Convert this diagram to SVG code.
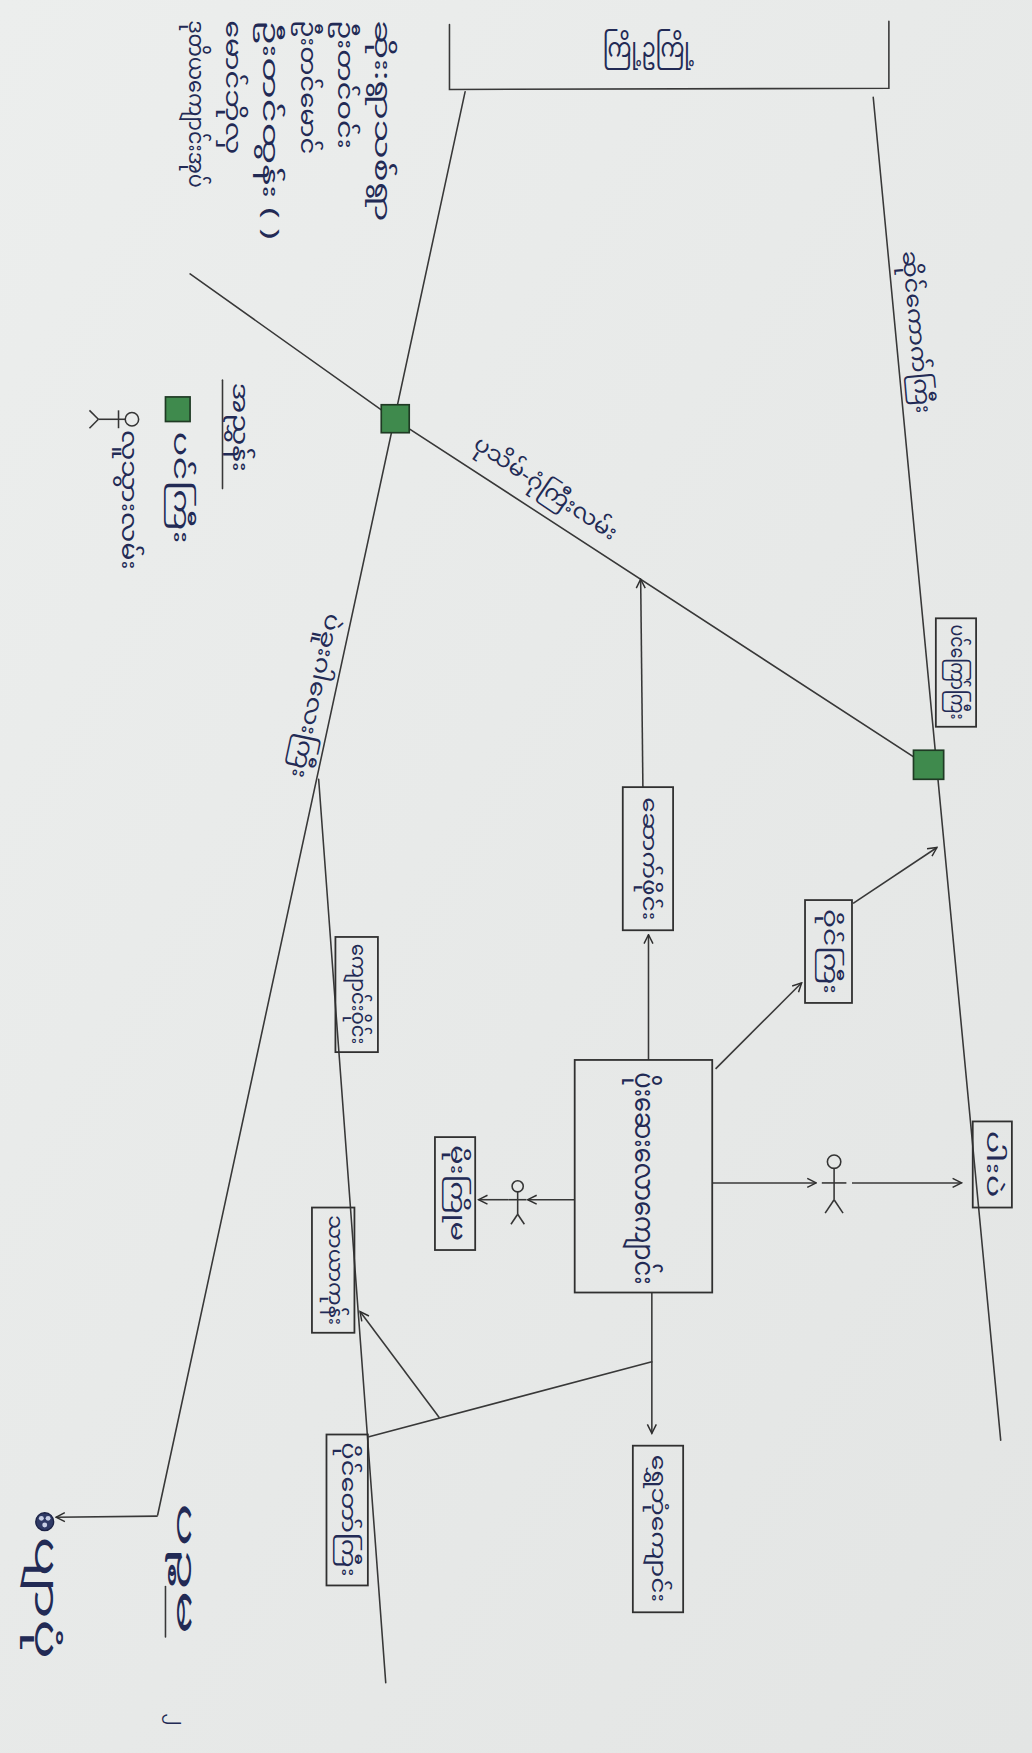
<svg xmlns="http://www.w3.org/2000/svg" width="1032" height="1753" viewBox="0 0 1032 1753">
<defs>
<linearGradient id="paper" x1="0" y1="0" x2="1" y2="1">
<stop offset="0" stop-color="#eceeed"/>
<stop offset="1" stop-color="#e3e5e4"/>
</linearGradient>
<marker id="ah" viewBox="0 0 10 10" refX="9" refY="5" markerWidth="10" markerHeight="10" orient="auto" markerUnits="userSpaceOnUse">
<path d="M1,1 L9,5 L1,9" fill="none" stroke="#2e2e2e" stroke-width="1.3"/>
</marker>
<style>
.ln{fill:none;stroke:#383838;stroke-width:1.4;stroke-linecap:round}
.ar{fill:none;stroke:#383838;stroke-width:1.4;marker-end:url(#ah)}
.bx{fill:none;stroke:#303030;stroke-width:1.6}
.t{font-family:'Noto Sans Myanmar','Padauk','Myanmar Text','Noto Sans',sans-serif;fill:#222a55;text-anchor:middle;dominant-baseline:central}
.ts{font-family:'Noto Sans Myanmar','Padauk','Myanmar Text','Noto Sans',sans-serif;fill:#222a55;text-anchor:start;dominant-baseline:central}
.sq{fill:#3f8a4d;stroke:#1f3a24;stroke-width:1.5}
.fig{fill:none;stroke:#353535;stroke-width:1.4}
</style>
</defs>
<rect x="0" y="0" width="1032" height="1753" fill="url(#paper)"/>
<g transform="scale(1.11809)">
<g id="connectors">
<polyline class="ln" points="402,22 402,80 795,79 795,19"/>
<line class="ln" x1="781" y1="87" x2="895" y2="1288"/>
<polyline class="ln" points="170,245 353,375 828,684"/>
<polyline class="ln" points="416,82 141,1355"/>
<line class="ar" x1="141" y1="1356" x2="50" y2="1357"/>
<line class="ln" x1="285" y1="697" x2="345" y2="1505"/>
<line class="ar" x1="580" y1="948" x2="580" y2="836"/>
<line class="ar" x1="575" y1="704" x2="573" y2="518"/>
<line class="ar" x1="640" y1="956" x2="717" y2="879"/>
<line class="ar" x1="763" y1="808" x2="838" y2="758"/>
<line class="ar" x1="637" y1="1058" x2="730" y2="1058"/>
<line class="ar" x1="762" y1="1058" x2="860" y2="1058"/>
<line class="ar" x1="514" y1="1073" x2="472" y2="1073"/>
<line class="ar" x1="455" y1="1073" x2="428" y2="1073"/>
<line class="ar" x1="583" y1="1156" x2="583" y2="1282"/>
<line class="ln" x1="583" y1="1218" x2="330" y2="1285"/>
<line class="ar" x1="393" y1="1268" x2="322" y2="1173"/>
<line class="ln" x1="199" y1="340" x2="199" y2="437"/>
<line class="ln" x1="148" y1="1419" x2="148" y2="1464"/>
</g>
<g id="title"><text class="t" x="580" y="45" font-size="24" textLength="82" lengthAdjust="spacingAndGlyphs">ကြို့ဥကြို့</text></g>
<g id="list">
<text class="ts" transform="translate(340,18) rotate(90)" font-size="20" textLength="180" lengthAdjust="spacingAndGlyphs">ဆိုး:ရွာသစ်ရွာ</text>
<text class="ts" transform="translate(307,18) rotate(90)" font-size="20" textLength="115" lengthAdjust="spacingAndGlyphs">ဦးတင်ဝင်း</text>
<text class="ts" transform="translate(274,18) rotate(90)" font-size="20" textLength="120" lengthAdjust="spacingAndGlyphs">ဦးတင်မောင်</text>
<text class="ts" transform="translate(240,18) rotate(90)" font-size="20" textLength="196" lengthAdjust="spacingAndGlyphs">ဦးတင်ထွန်း ( )</text>
<text class="ts" transform="translate(207,18) rotate(90)" font-size="20" textLength="120" lengthAdjust="spacingAndGlyphs">မောင်ဘိုလှ</text>
<text class="ts" transform="translate(174,18) rotate(90)" font-size="20" textLength="150" lengthAdjust="spacingAndGlyphs">ဒုတိယကျောင်းအုပ်</text>
</g>
<g id="legend">
<text class="t" transform="translate(213,382) rotate(90)" font-size="19" textLength="80" lengthAdjust="spacingAndGlyphs">အညွှန်း</text>
<rect class="sq" x="148" y="355" width="22" height="22"/>
<text class="t" transform="translate(160,436) rotate(90)" font-size="19" textLength="100" lengthAdjust="spacingAndGlyphs">ပင်ကြီး</text>
<g class="fig"><circle cx="118" cy="375" r="6"/><line x1="112" y1="375" x2="88" y2="375"/><line x1="106" y1="367" x2="106" y2="383"/><line x1="88" y1="375" x2="80" y2="367"/><line x1="88" y1="375" x2="80" y2="383"/></g>
<text class="t" transform="translate(114,447) rotate(90)" font-size="19" textLength="125" lengthAdjust="spacingAndGlyphs">လူသွားလမ်း</text>
</g>
<g id="roadlabels">
<text class="t" transform="translate(818,297) rotate(85)" font-size="19" textLength="146" lengthAdjust="spacingAndGlyphs">ဆိုင်ကောက်ကြီး</text>
<text class="t" transform="translate(487,438) rotate(34)" font-size="19" textLength="150" lengthAdjust="spacingAndGlyphs">ပုသိမ်-ဂုံကြီးလမ်း</text>
<text class="t" transform="translate(281,622) rotate(102)" font-size="19" textLength="150" lengthAdjust="spacingAndGlyphs">ပဲခူးဂါလေးကြီး</text>
</g>
<g id="sq1"><rect class="sq" x="341" y="362" width="25" height="25"/></g>
<g id="sq2"><rect class="sq" x="817" y="671" width="27" height="26"/></g>
<g id="n1"><rect class="bx" x="837" y="553" width="36" height="97"/><text class="t" transform="translate(855,601) rotate(90)" font-size="17" textLength="85" lengthAdjust="spacingAndGlyphs">ပင်ကြော်ကြီး</text></g>
<g id="n2"><rect class="bx" x="557" y="704" width="45" height="128"/><text class="t" transform="translate(580,768) rotate(90)" font-size="18" textLength="110" lengthAdjust="spacingAndGlyphs">ဆောက်ဖိုင်း</text></g>
<g id="n3"><rect class="bx" x="720" y="805" width="42" height="92"/><text class="t" transform="translate(741,851) rotate(90)" font-size="18" textLength="76" lengthAdjust="spacingAndGlyphs">ဝိုင်ကြီး</text></g>
<g id="n4"><rect class="bx" x="514" y="948" width="123" height="208"/><text class="t" transform="translate(574,1054) rotate(90)" font-size="24" textLength="190" lengthAdjust="spacingAndGlyphs">ပိုးဆေးလောကျောင်း</text></g>
<g id="n5"><rect class="bx" x="389" y="1017" width="36" height="101"/><text class="t" transform="translate(407,1067) rotate(90)" font-size="17" textLength="86" lengthAdjust="spacingAndGlyphs">မိုးကြိုမ</text></g>
<g id="n6"><rect class="bx" x="870" y="1003" width="35" height="77"/><text class="t" transform="translate(887,1041) rotate(90)" font-size="17" textLength="60" lengthAdjust="spacingAndGlyphs">ပါးပဲ</text></g>
<g id="n7"><rect class="bx" x="566" y="1293" width="45" height="149"/><text class="t" transform="translate(588,1367) rotate(90)" font-size="18" textLength="132" lengthAdjust="spacingAndGlyphs">ရွှေဘုံကျောင်း</text></g>
<g id="n8"><rect class="bx" x="300" y="838" width="38" height="103"/><text class="t" transform="translate(319,889) rotate(90)" font-size="17" textLength="90" lengthAdjust="spacingAndGlyphs">ကျောင်းဝိုင်း</text></g>
<g id="n9"><rect class="bx" x="279" y="1080" width="38" height="112"/><text class="t" transform="translate(298,1136) rotate(90)" font-size="17" textLength="98" lengthAdjust="spacingAndGlyphs">သာယာကုန်း</text></g>
<g id="n10"><rect class="bx" x="292" y="1283" width="37" height="135"/><text class="t" transform="translate(310,1350) rotate(90)" font-size="17" textLength="120" lengthAdjust="spacingAndGlyphs">ပိုင်တော်ကြီး</text></g>
<g id="fig1" class="fig"><circle cx="463" cy="1061" r="5"/><line x1="463" y1="1066" x2="463" y2="1086"/><line x1="455" y1="1073" x2="471" y2="1073"/><line x1="463" y1="1086" x2="457" y2="1095"/><line x1="463" y1="1086" x2="469" y2="1095"/></g>
<g id="fig2" class="fig"><circle cx="746" cy="1039" r="6"/><line x1="746" y1="1045" x2="746" y2="1073"/><line x1="735" y1="1058" x2="757" y2="1058"/><line x1="746" y1="1073" x2="738" y2="1085"/><line x1="746" y1="1073" x2="754" y2="1085"/></g>
<g id="town"><circle cx="40" cy="1361" r="8" fill="#2f3a66" stroke="#1b2245" stroke-width="1.2"/><circle cx="37" cy="1358" r="2.2" fill="#c9d0e6"/><circle cx="43" cy="1358" r="2.2" fill="#c9d0e6"/><circle cx="40" cy="1364" r="2.2" fill="#c9d0e6"/>
<text class="t" transform="translate(38,1429) rotate(90)" font-size="30" textLength="110" lengthAdjust="spacingAndGlyphs">ပျာပုံ</text></g>
<g id="corner">
<text class="t" transform="translate(164,1403) rotate(90)" font-size="22" textLength="118" lengthAdjust="spacingAndGlyphs">ပဉ္စမ</text>
<text class="t" transform="translate(157,1538) rotate(90)" font-size="16">၂</text>
</g>
</g>
</svg>
